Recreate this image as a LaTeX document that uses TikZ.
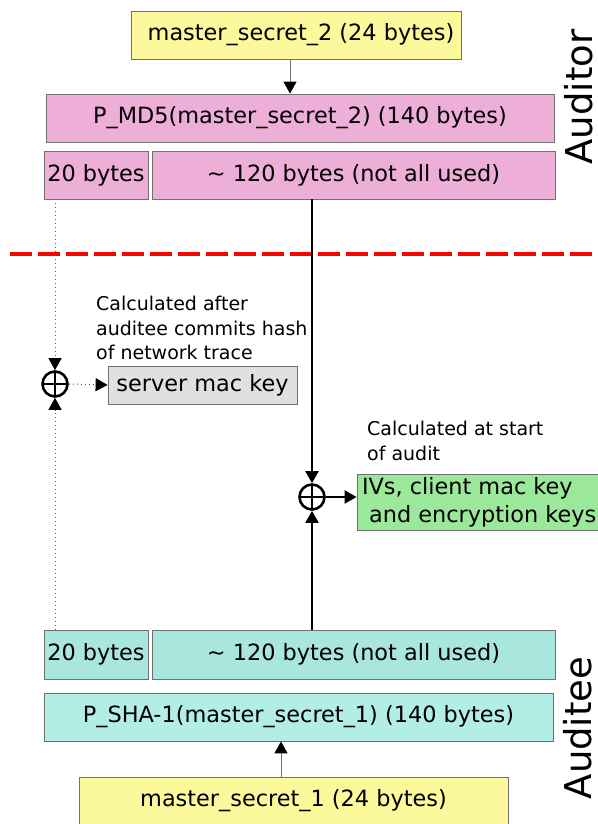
\documentclass[tikz,border=0pt]{standalone}
\usepackage{fontspec}
\setmainfont{DejaVu Sans}
\usetikzlibrary{arrows.meta}
\definecolor{ylw}{HTML}{FBF99B}
\definecolor{pnk}{HTML}{EDAED7}
\definecolor{tealA}{HTML}{A8E6DE}
\definecolor{tealB}{HTML}{B2EDE6}
\definecolor{gry}{HTML}{E0E0E0}
\definecolor{grn}{HTML}{9CE89A}
\definecolor{edge}{HTML}{707070}
\begin{document}
\begin{tikzpicture}[x=1pt,y=-1pt,
  box/.style={draw=edge, line width=0.8pt, inner sep=0pt, text=black,
    font=\fontsize{22.4}{26}\selectfont},
  note/.style={inner sep=0pt, align=left, anchor=west,
    font=\fontsize{19}{24.5}\selectfont},
  side/.style={inner sep=0pt, rotate=90, font=\fontsize{37}{40}\selectfont},
  xorc/.style={circle, draw=black, line width=2.6pt, minimum size=25pt, inner sep=0pt,
    path picture={\draw[line width=2.6pt]
      (path picture bounding box.north) -- (path picture bounding box.south)
      (path picture bounding box.west) -- (path picture bounding box.east);}},
  tip/.style={-{Triangle[length=12pt,width=13pt,color=black,fill=black]}},
  solid conn/.style={tip, draw=black, line width=2pt},
  dot conn/.style={tip, draw=black!65, line width=1pt, dash pattern=on 1pt off 3pt},
]
\useasboundingbox (0,0) rectangle (597,824);

% Auditor side
\node[box, fill=ylw, minimum width=330pt, minimum height=48pt] (ms2) at (296,35)
  {\hspace*{10pt}master\_secret\_2 (24 bytes)};
\node[box, fill=pnk, minimum width=508pt, minimum height=48pt] (pmd5) at (300,118)
  {P\_MD5(master\_secret\_2) (140 bytes)};
\node[box, fill=pnk, minimum width=104pt, minimum height=48pt] (a20) at (96,175) {20 bytes};
\node[box, fill=pnk, minimum width=403pt, minimum height=48pt] (a120) at (353.5,175)
  {\textasciitilde{} 120 bytes (not all used)};
\node[side] (auditor) at (579,97) {Auditor};

% separator
\coordinate (sepL) at (10,254);
\coordinate (sepR) at (597,254);
\draw[red, line width=3.5pt, dash pattern=on 22pt off 6pt] (sepL) -- (sepR);

% middle
\node[xorc] (c1) at (55,384) {};
\node[box, fill=gry, minimum width=189pt, minimum height=38pt] (server) at (202.5,385)
  {server mac key};
\node[note] (n1) at (96,328)
  {Calculated after\\auditee commits hash\\of network trace};

\node[xorc] (c2) at (312,497) {};
\node[box, fill=grn, minimum width=241pt, minimum height=56pt, align=left,
  font=\fontsize{22.4}{28}\selectfont] (green) at (477.5,502)
  {\makebox[231pt][l]{IVs, client mac key}\\\makebox[231pt][l]{\ and encryption keys}};
\node[note] (n2) at (367,441)
  {Calculated at start\\of audit};

% Auditee side
\node[box, fill=tealA, minimum width=104pt, minimum height=49pt] (b20) at (96,654.5) {20 bytes};
\node[box, fill=tealA, minimum width=403pt, minimum height=49pt] (b120) at (353.5,654.5)
  {\textasciitilde{} 120 bytes (not all used)};
\node[box, fill=tealB, minimum width=509pt, minimum height=48pt] (psha) at (298.5,717)
  {P\_SHA-1(master\_secret\_1) (140 bytes)};
\node[box, fill=ylw, minimum width=429pt, minimum height=48pt] (ms1) at (293.5,801)
  {master\_secret\_1 (24 bytes)};
\node[side] (auditee) at (578,728) {Auditee};

% connectors
\draw[tip, draw=edge, line width=1pt] ([xshift=-6pt]ms2.south) -- ([xshift=-6pt]ms2.south |- pmd5.north);
\draw[tip, draw=edge, line width=1pt] ([xshift=-12.5pt]ms1.north) -- ([xshift=-12.5pt]ms1.north |- psha.south);
\draw[solid conn] (c2.north |- a120.south) -- (c2.north);
\draw[solid conn] (c2.south |- b120.north) -- (c2.south);
\draw[solid conn] (c2.east) -- (c2.east -| green.west);
\draw[dot conn] (c1.north |- a20.south) -- (c1.north);
\draw[dot conn] (c1.south |- b20.north) -- (c1.south);
\draw[dot conn] (c1.east) -- (server.west);
\end{tikzpicture}
\end{document}
